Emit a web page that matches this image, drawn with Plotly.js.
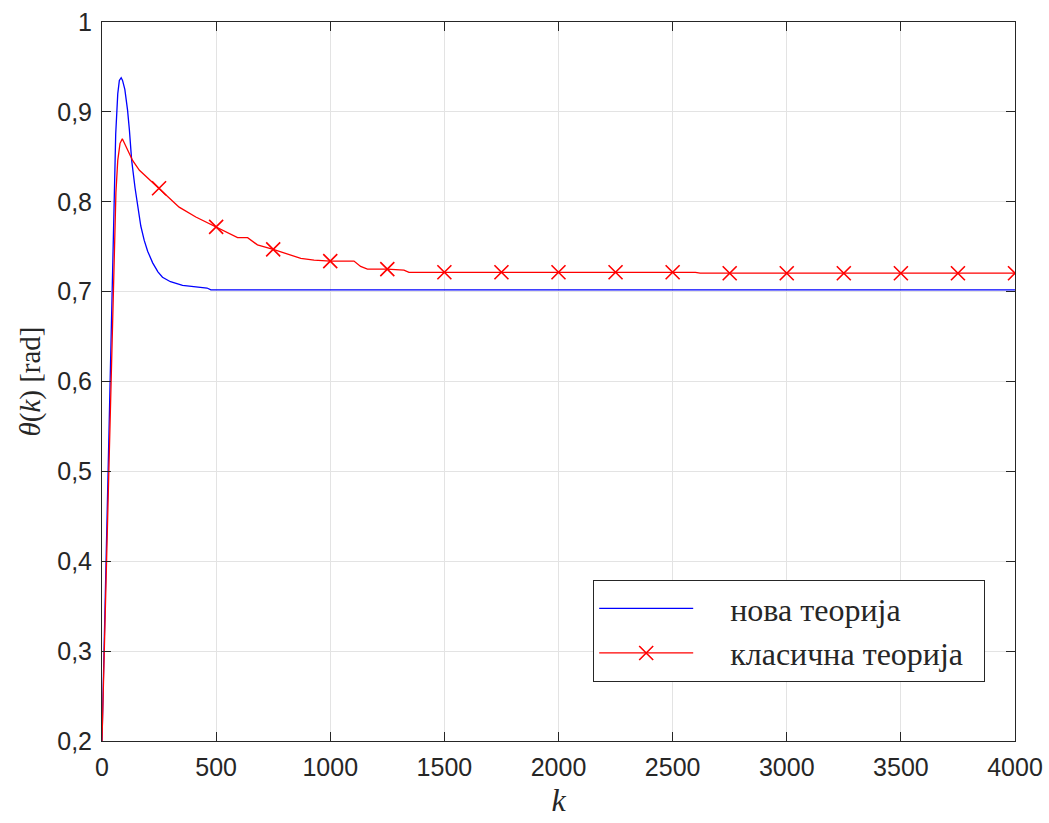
<!DOCTYPE html>
<html>
<head>
<meta charset="utf-8">
<script src="https://cdn.plot.ly/plotly-3.0.1.min.js"></script>
<style>html,body{margin:0;padding:0;background:#fff;}#chart{width:1049px;height:823px;}</style>
</head>
<body>
<div id="chart"></div>
<script>
// Series: "нова теорија" (blue)
const kNew = [0,10,20,30,40,50,60,69,76,84,90,100,112,120,130,145,156,170,185,200,222,245,265,300,353,400,440,460,477,500,1000,2000,3000,4000];
const thetaNew = [0.2,0.31,0.42,0.53,0.64,0.76,0.875,0.92,0.935,0.938,0.935,0.925,0.902,0.88,0.846,0.815,0.794,0.773,0.757,0.745,0.732,0.722,0.716,0.711,0.707,0.706,0.705,0.704,0.702,0.702,0.702,0.702,0.702,0.702];

// Series: "класична теорија" (red, markers every 250 samples)
const kClassic = [0,10,20,30,40,47,55,61,69,79,89,105,120,134,164,193,250,338,411,500,586,594,638,681,750,871,929,1000,1104,1133,1163,1250,1323,1345,1500,1750,2000,2250,2500,2600,2620,2750,3000,3250,3500,3750,4000];
const thetaClassic = [0.2,0.30,0.40,0.51,0.61,0.68,0.76,0.81,0.846,0.865,0.870,0.861,0.852,0.846,0.835,0.828,0.815,0.794,0.783,0.772,0.761,0.760,0.760,0.752,0.747,0.737,0.735,0.734,0.734,0.728,0.725,0.725,0.724,0.7215,0.7215,0.7215,0.7215,0.7215,0.7215,0.7215,0.7205,0.7205,0.7205,0.7205,0.7205,0.7205,0.7205];
const markerStep = 250;

const xTicks = [0,500,1000,1500,2000,2500,3000,3500,4000];
const yTicks = [0.2,0.3,0.4,0.5,0.6,0.7,0.8,0.9,1];

const names = ['нова теорија', 'класична теорија'];
const pad = '\u00a0\u00a0\u00a0\u00a0';
const tail = '\u00a0\u00a0';

const markerIdx = [];
kClassic.forEach((k, i) => { if (k > 0 && k % markerStep === 0) markerIdx.push(i); });

const traces = [
  {x: kNew, y: thetaNew, type: 'scatter', mode: 'lines', name: pad + names[0] + tail,
   line: {color: '#0000ff', width: 1.3}},
  {x: kClassic, y: thetaClassic, type: 'scatter', mode: 'lines+markers', name: pad + names[1] + tail,
   line: {color: '#ff0000', width: 1.3},
   selectedpoints: markerIdx,
   selected: {marker: {opacity: 1}},
   unselected: {marker: {opacity: 0}},
   marker: {symbol: 'x-thin-open', size: 14, color: '#ff0000', line: {color: '#ff0000', width: 1.6}}}
];

const axisCommon = {
  showgrid: true, gridcolor: '#e3e3e3', gridwidth: 1,
  showline: true, linecolor: '#262626', linewidth: 1, mirror: 'ticks',
  ticks: 'inside', ticklen: 9, tickcolor: '#262626', tickwidth: 1,
  zeroline: false,
  tickfont: {family: 'Liberation Sans, Arial, sans-serif', size: 25, color: '#262626'}
};

const layout = {
  width: 1049, height: 823,
  margin: {l: 102, r: 34, t: 22, b: 82},
  paper_bgcolor: '#ffffff', plot_bgcolor: '#ffffff',
  separators: ', ',
  showlegend: true,
  xaxis: Object.assign({}, axisCommon, {
    range: [0, 4000], tickmode: 'array', tickvals: xTicks,
    ticktext: xTicks.map(v => String(v)),
    ticklabelstandoff: 4,
    title: {text: '<i>k</i>', font: {family: 'Liberation Serif, Times New Roman, serif', size: 32, color: '#262626'}, standoff: 8}
  }),
  yaxis: Object.assign({}, axisCommon, {
    range: [0.2, 1], tickmode: 'array', tickvals: yTicks,
    ticktext: yTicks.map(v => String(v).replace('.', ',')),
    ticklabelstandoff: 4,
    title: {text: '<i>θ</i>(<i>k</i>)\u00a0[rad]', font: {family: 'Liberation Serif, Times New Roman, serif', size: 29, color: '#262626'}, standoff: 8}
  }),
  legend: {
    x: 0.538, y: 0.082, xanchor: 'left', yanchor: 'bottom',
    bgcolor: '#ffffff', bordercolor: '#262626', borderwidth: 1,
    font: {family: 'Liberation Serif, Times New Roman, serif', size: 32, color: '#262626'},
    itemwidth: 94, tracegroupgap: 0
  }
};

Plotly.newPlot('chart', traces, layout, {displayModeBar: false, staticPlot: true});
</script>
</body>
</html>
